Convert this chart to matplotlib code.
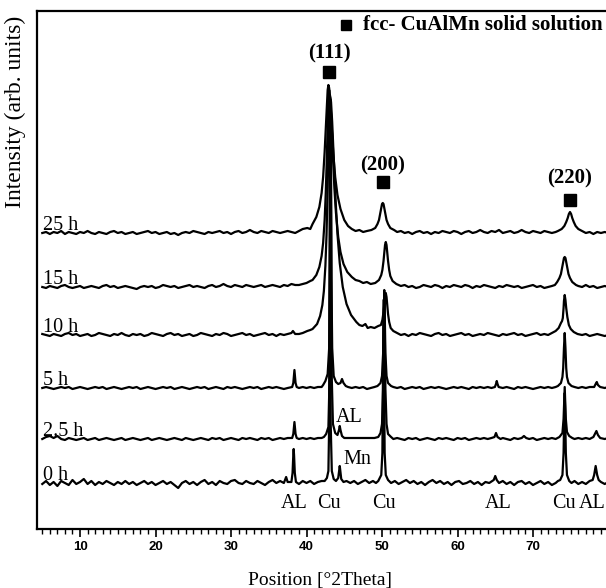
import matplotlib.pyplot as plt

plt.rcParams['font.family'] = ['Liberation Serif', 'DejaVu Serif']

# 2theta (deg) / intensity (arb. units, above each pattern's baseline)
scan_25h = [
    (5.0, 0), (5.5, 1), (6.0, -1), (6.5, 1), (7.0, 0), (7.5, 2), (8.0, -1), (8.5, 1), (9.0, 0), (9.5, -1),
    (10.0, 1), (10.5, 0), (11.0, 2), (11.5, 0), (12.0, -1), (12.5, 1), (13.0, 0), (13.5, -1), (14.0, 1), (14.5, 2),
    (15.0, 0), (15.5, 1), (16.0, -1), (16.5, 0), (17.0, 1), (17.5, -1), (18.0, 0), (18.5, 1), (19.0, 2), (19.5, 0),
    (20.0, 1), (20.5, -1), (21.0, 0), (21.5, 1), (22.0, -1), (22.5, 0), (23.0, -2), (23.5, 0), (24.0, 1), (24.5, 0),
    (25.0, 2), (25.5, 1), (26.0, 0), (26.5, -1), (27.0, 1), (27.5, 0), (28.0, 1), (28.5, 2), (29.0, 0), (29.5, 1),
    (30.0, -1), (30.5, 1), (31.0, 2), (31.5, 0), (32.0, 1), (32.5, 3), (33.0, 1), (33.5, 0), (34.0, 2), (34.5, 1),
    (35.0, 0), (35.5, 2), (36.0, 1), (36.5, 0), (37.0, 1), (37.5, 2), (38.0, 1), (38.5, 0), (39.0, 2), (39.5, 4),
    (40.1, 5), (40.5, 4), (40.8, 9), (41.3, 16), (41.7, 26), (42.0, 40), (42.2, 56), (42.4, 81), (42.55, 105),
    (42.7, 131), (42.8, 143), (42.9, 148), (43.0, 145), (43.15, 131), (43.35, 105), (43.55, 79), (43.8, 56),
    (44.1, 38), (44.5, 24), (45.0, 13), (45.5, 7), (46.0, 4), (46.5, 2), (47.0, 3), (47.5, 1), (48.0, 2),
    (48.6, 3), (49.1, 5), (49.4, 9), (49.6, 13), (49.75, 19), (49.9, 25), (50.0, 29), (50.1, 30), (50.2, 29),
    (50.3, 25), (50.45, 19), (50.6, 13), (50.8, 9), (51.1, 5), (51.6, 3), (52.0, 1), (52.5, 2), (53.0, 0),
    (53.5, 1), (54.0, -1), (54.5, 1), (55.0, 2), (55.5, 0), (56.0, 1), (56.5, -1), (57.0, 1), (57.5, 0), (58.0, 2),
    (58.5, 1), (59.0, 0), (59.5, 2), (60.0, 1), (60.5, -1), (61.0, 1), (61.5, 2), (62.0, 0), (62.5, 1), (63.0, 3),
    (63.5, 1), (64.0, 0), (64.5, 2), (65.0, 1), (65.5, 3), (66.0, 0), (66.5, 1), (67.0, 2), (67.5, 0), (68.0, 1),
    (68.5, 3), (69.0, 1), (69.5, 0), (70.0, 2), (70.5, 1), (71.0, 0), (71.5, 2), (72.0, 1), (72.5, 0), (73.0, 1),
    (73.3, 2), (73.8, 4), (74.15, 7), (74.4, 11), (74.6, 15), (74.75, 19), (74.9, 21), (75.05, 19), (75.2, 15),
    (75.4, 11), (75.65, 7), (76.0, 4), (76.5, 2), (77.0, 0), (77.5, 1), (78.0, -1), (78.5, 1), (79.0, 0),
    (79.5, 1), (80.0, 0),
]

scan_15h = [
    (5.0, 0), (5.5, -1), (6.0, 1), (6.5, 0), (7.0, -1), (7.5, 1), (8.0, 2), (8.5, 0), (9.0, -1), (9.5, 0),
    (10.0, 1), (10.5, -1), (11.0, 0), (11.5, 1), (12.0, 0), (12.5, -1), (13.0, 1), (13.5, 2), (14.0, 0), (14.5, 1),
    (15.0, -1), (15.5, 0), (16.0, 1), (16.5, 0), (17.0, -1), (17.5, -2), (18.0, 0), (18.5, 1), (19.0, 0), (19.5, 1),
    (20.0, -1), (20.5, 0), (21.0, 2), (21.5, 1), (22.0, 0), (22.5, 1), (23.0, -1), (23.5, 0), (24.0, 1), (24.5, 2),
    (25.0, 0), (25.5, 1), (26.0, 0), (26.5, -1), (27.0, 1), (27.5, 2), (28.0, 0), (28.5, 1), (29.0, 3), (29.5, 1),
    (30.0, 0), (30.5, 2), (31.0, 1), (31.5, 0), (32.0, 2), (32.5, 1), (33.0, 0), (33.5, 1), (34.0, 2), (34.5, 0),
    (35.0, 1), (35.5, 2), (36.0, 1), (36.5, 0), (37.0, 2), (37.5, 1), (38.0, 3), (38.5, 2), (39.0, 2), (39.5, 3),
    (40.0, 4), (40.5, 6), (40.8, 7), (41.3, 12), (41.7, 20), (42.0, 31), (42.2, 44), (42.4, 67), (42.55, 94),
    (42.7, 132), (42.8, 162), (42.9, 187), (43.0, 197), (43.15, 188), (43.3, 166), (43.5, 130), (43.7, 98),
    (43.9, 74), (44.2, 50), (44.5, 35), (44.9, 23), (45.4, 15), (46.0, 10), (46.5, 7), (47.0, 6), (47.5, 4),
    (48.0, 5), (48.5, 3), (49.1, 4), (49.6, 7), (49.9, 12), (50.05, 17), (50.2, 26), (50.3, 34), (50.4, 42),
    (50.5, 45), (50.6, 42), (50.7, 34), (50.8, 26), (50.95, 17), (51.1, 11), (51.4, 6), (51.9, 3), (52.5, 1),
    (53.0, 2), (53.5, 0), (54.0, 1), (54.5, -1), (55.0, 0), (55.5, 2), (56.0, 1), (56.5, 0), (57.0, 2), (57.5, 1),
    (58.0, -1), (58.5, 1), (59.0, 0), (59.5, 2), (60.0, 1), (60.5, 0), (61.0, 2), (61.5, 1), (62.0, -1), (62.5, 1),
    (63.0, 0), (63.5, 2), (64.0, 1), (64.5, 0), (65.0, -1), (65.5, 1), (66.0, 0), (66.5, 2), (67.0, 1), (67.5, 0),
    (68.0, 1), (68.5, -1), (69.0, 0), (69.5, 1), (70.0, 2), (70.5, 0), (71.0, 1), (71.5, -1), (72.0, 0), (72.5, 1),
    (72.9, 2), (73.2, 5), (73.5, 9), (73.7, 13), (73.85, 19), (74.0, 25), (74.1, 29), (74.2, 30), (74.3, 29),
    (74.4, 25), (74.55, 19), (74.7, 13), (74.9, 9), (75.2, 5), (75.7, 2), (76.0, 1), (76.5, 0), (77.0, 2),
    (77.5, 0), (78.0, 1), (78.5, -1), (79.0, 0), (79.5, 1), (80.0, 0),
]

scan_10h = [
    (5.0, 1), (5.5, 0), (6.0, -1), (6.5, 1), (7.0, 0), (7.5, -1), (8.0, 1), (8.5, 2), (9.0, 0), (9.5, 1),
    (10.0, -1), (10.5, 0), (11.0, 1), (11.5, -1), (12.0, 0), (12.5, 2), (13.0, 1), (13.5, 0), (14.0, -1), (14.5, 1),
    (15.0, 0), (15.5, 2), (16.0, 0), (16.5, -1), (17.0, 1), (17.5, 0), (18.0, 1), (18.5, -1), (19.0, 0), (19.5, 2),
    (20.0, 1), (20.5, 0), (21.0, -1), (21.5, 1), (22.0, 2), (22.5, 0), (23.0, 1), (23.5, -1), (24.0, 0), (24.5, 1),
    (25.0, -1), (25.5, 0), (26.0, 2), (26.5, 1), (27.0, 0), (27.5, -1), (28.0, 1), (28.5, 0), (29.0, 2), (29.5, 1),
    (30.0, -1), (30.5, 0), (31.0, 1), (31.5, 2), (32.0, 0), (32.5, 1), (33.0, -1), (33.5, 0), (34.0, 1), (34.5, 2),
    (35.0, 0), (35.5, 1), (36.0, -1), (36.5, 1), (37.0, 0), (37.5, 1), (38.0, 2), (38.2, 4), (38.5, 1), (39.0, 1),
    (39.5, 2), (40.1, 4), (40.5, 5), (40.8, 6), (41.4, 11), (41.8, 19), (42.1, 30), (42.3, 44), (42.5, 69),
    (42.65, 100), (42.8, 148), (42.9, 188), (43.0, 224), (43.1, 240), (43.25, 233), (43.4, 213), (43.6, 178),
    (43.85, 135), (44.1, 101), (44.4, 72), (44.8, 48), (45.3, 31), (45.9, 20), (46.6, 13), (47.0, 10), (47.4, 9),
    (47.8, 11), (48.1, 7), (48.5, 8), (49.0, 7), (49.5, 9), (49.85, 10), (50.05, 15), (50.2, 23), (50.3, 31),
    (50.4, 38), (50.5, 42), (50.6, 38), (50.7, 29), (50.8, 21), (50.95, 13), (51.15, 7), (51.5, 4), (52.0, 2),
    (52.5, 0), (53.0, 1), (53.5, -1), (54.0, 1), (54.5, 0), (55.0, 2), (55.5, 1), (56.0, 0), (56.5, -1), (57.0, 1),
    (57.5, 2), (58.0, 0), (58.5, 1), (59.0, -1), (59.5, 0), (60.0, 1), (60.5, 2), (61.0, 0), (61.5, 1), (62.0, -1),
    (62.5, 0), (63.0, 1), (63.5, 0), (64.0, 2), (64.5, 1), (65.0, 0), (65.5, -1), (66.0, 1), (66.5, 0), (67.0, 1),
    (67.5, 2), (68.0, 0), (68.5, 1), (69.0, -1), (69.5, 0), (70.0, 1), (70.5, 2), (71.0, 0), (71.5, 1), (72.0, 0),
    (72.5, 2), (73.0, 4), (73.4, 7), (73.7, 12), (73.85, 14), (73.95, 17), (74.05, 27), (74.1, 34), (74.2, 40),
    (74.3, 35), (74.4, 27), (74.55, 18), (74.75, 10), (75.0, 6), (75.4, 3), (75.9, 1), (76.5, 0), (77.0, 1),
    (77.5, -1), (78.0, 0), (78.5, 1), (79.0, 0), (79.5, -1), (80.0, 0),
]

scan_5h = [
    (5.0, 0), (5.5, 1), (6.0, 0), (6.5, -1), (7.0, 0), (7.5, 1), (8.0, 0), (8.5, 1), (9.0, -1), (9.5, 0),
    (10.0, 1), (10.5, 0), (11.0, -1), (11.5, 0), (12.0, 1), (12.5, 0), (13.0, 1), (13.5, -1), (14.0, 0), (14.5, 1),
    (15.0, 0), (15.5, -1), (16.0, 0), (16.5, 1), (17.0, 0), (17.5, 1), (18.0, -1), (18.5, 0), (19.0, 1), (19.5, 0),
    (20.0, -1), (20.5, 0), (21.0, 1), (21.5, 0), (22.0, 1), (22.5, -1), (23.0, 0), (23.5, 1), (24.0, 0), (24.5, -1),
    (25.0, 0), (25.5, 1), (26.0, 0), (26.5, 1), (27.0, -1), (27.5, 0), (28.0, 1), (28.5, 0), (29.0, -1), (29.5, 1),
    (30.0, 0), (30.5, 1), (31.0, 0), (31.5, -1), (32.0, 0), (32.5, 1), (33.0, 0), (33.5, 1), (34.0, -1), (34.5, 0),
    (35.0, 1), (35.5, 0), (36.0, 1), (36.5, 0), (37.0, -1), (37.5, 0), (38.1, 1), (38.25, 5), (38.35, 14),
    (38.4, 18), (38.45, 14), (38.55, 5), (38.7, 1), (39.0, 0), (39.5, 1), (40.0, 0), (40.5, 1), (41.0, 0),
    (41.5, 1), (42.0, 1), (42.2, 3), (42.5, 7), (42.8, 14), (43.0, 40), (43.1, 110), (43.15, 200), (43.2, 288),
    (43.25, 200), (43.3, 110), (43.4, 40), (43.6, 12), (43.9, 6), (44.2, 4), (44.5, 5), (44.7, 9), (44.9, 5),
    (45.2, 2), (45.5, 1), (46.0, 0), (46.5, 1), (47.0, 0), (47.5, 1), (48.0, -1), (48.5, 0), (49.0, 1),
    (49.4, 2), (49.8, 5), (50.0, 12), (50.15, 35), (50.25, 80), (50.3, 98), (50.35, 80), (50.45, 35), (50.6, 12),
    (50.8, 5), (51.2, 2), (51.5, 1), (52.0, 0), (52.5, 1), (53.0, -1), (53.5, 0), (54.0, 1), (54.5, 0), (55.0, 1),
    (55.5, -1), (56.0, 0), (56.5, 1), (57.0, 0), (57.5, 1), (58.0, 0), (58.5, -1), (59.0, 0), (59.5, 1), (60.0, 0),
    (60.5, 1), (61.0, 0), (61.5, -1), (62.0, 1), (62.5, 0), (63.0, 1), (63.5, 0), (64.0, 1), (64.5, 0),
    (64.95, 1), (65.1, 4), (65.2, 7), (65.3, 4), (65.45, 1), (66.0, 0), (66.5, 1), (67.0, 0), (67.5, -1),
    (68.0, 1), (68.5, 0), (69.0, 1), (69.5, 0), (70.0, -1), (70.5, 0), (71.0, 1), (71.5, 0), (72.0, 1), (72.5, 0),
    (73.0, 1), (73.3, 2), (73.7, 5), (73.9, 11), (74.0, 20), (74.1, 40), (74.2, 55), (74.3, 40), (74.4, 20),
    (74.5, 11), (74.7, 5), (75.1, 2), (75.5, 1), (76.0, 0), (76.5, 1), (77.0, 0), (77.5, 1), (78.1, 1),
    (78.3, 4), (78.45, 6), (78.6, 3), (78.9, 1), (79.5, 0), (80.0, 1),
]

scan_2_5h = [
    (5.0, 0), (5.5, 2), (6.0, 3), (6.5, 1), (7.0, 3), (7.5, 0), (8.0, -1), (8.5, 1), (9.0, 0), (9.5, -1),
    (10.0, 0), (10.5, 1), (11.0, -1), (11.5, 0), (12.0, 1), (12.5, -1), (13.0, 0), (13.5, 1), (14.0, 0), (14.5, -1),
    (15.0, 0), (15.5, 1), (16.0, -1), (16.5, 0), (17.0, 1), (17.5, 0), (18.0, -1), (18.5, 0), (19.0, 1), (19.5, -1),
    (20.0, 0), (20.5, 1), (21.0, 0), (21.5, -1), (22.0, 0), (22.5, 1), (23.0, 0), (23.5, -1), (24.0, 1), (24.5, 0),
    (25.0, -1), (25.5, 0), (26.0, 1), (26.5, 0), (27.0, -1), (27.5, 1), (28.0, 0), (28.5, 1), (29.0, -1), (29.5, 0),
    (30.0, 1), (30.5, 0), (31.0, -1), (31.5, 1), (32.0, 0), (32.5, 1), (33.0, 0), (33.5, -1), (34.0, 1), (34.5, 0),
    (35.0, 1), (35.5, -1), (36.0, 0), (36.5, 1), (37.0, 0), (37.5, 1), (38.1, 1), (38.25, 5), (38.35, 13),
    (38.4, 17), (38.45, 13), (38.55, 5), (38.7, 1), (39.0, 0), (39.5, 1), (40.0, 0), (40.5, 1), (41.0, 0),
    (41.5, 1), (42.0, 1), (42.3, 2), (42.6, 5), (42.9, 12), (43.05, 60), (43.15, 250), (43.2, 334), (43.25, 250),
    (43.35, 60), (43.5, 15), (43.8, 6), (44.1, 4), (44.3, 9), (44.4, 13), (44.5, 9), (44.7, 3), (45.0, 1),
    (46.0, 1), (47.0, 1), (48.0, 1), (49.0, 1), (49.5, 2), (49.8, 6), (50.0, 15), (50.15, 50), (50.25, 120),
    (50.3, 145), (50.35, 120), (50.45, 50), (50.6, 15), (50.8, 5), (51.2, 2), (51.5, 0), (52.0, 1), (52.5, 0),
    (53.0, -1), (53.5, 1), (54.0, 0), (54.5, 1), (55.0, -1), (55.5, 0), (56.0, 1), (56.5, 0), (57.0, -1), (57.5, 1),
    (58.0, 0), (58.5, 1), (59.0, 0), (59.5, -1), (60.0, 1), (60.5, 0), (61.0, 1), (61.5, -1), (62.0, 0), (62.5, 1),
    (63.0, 0), (63.5, 1), (64.0, 0), (64.5, 1), (64.9, 2), (65.1, 6), (65.3, 2), (65.7, 0), (66.0, 1), (66.5, 0),
    (67.0, -1), (67.5, 1), (68.0, 0), (68.5, 1), (68.8, 3), (69.1, 1), (69.5, 0), (70.0, 1), (70.5, -1), (71.0, 0),
    (71.5, 1), (72.0, 0), (72.5, 1), (73.0, 0), (73.5, 2), (73.9, 6), (74.05, 20), (74.15, 42), (74.2, 52),
    (74.25, 42), (74.35, 20), (74.5, 7), (74.8, 3), (75.2, 1), (75.5, 0), (76.0, 1), (76.5, 0), (77.0, 1),
    (77.5, 0), (78.0, 2), (78.2, 5), (78.4, 8), (78.6, 4), (78.9, 1), (79.5, 0), (80.0, 1),
]

scan_0h = [
    (5.0, -1), (5.5, 2), (6.0, -2), (6.5, 1), (7.0, -3), (7.5, 2), (8.0, 0), (8.5, -2), (9.0, 3), (9.5, -1),
    (10.0, 1), (10.5, 4), (11.0, -1), (11.5, 2), (12.0, -2), (12.5, 1), (13.0, -1), (13.5, 2), (14.0, 0), (14.5, -2),
    (15.0, 1), (15.5, -1), (16.0, 2), (16.5, -1), (17.0, 1), (17.5, -2), (18.0, 0), (18.5, 2), (19.0, -1), (19.5, 1),
    (20.0, -2), (20.5, 0), (21.0, 2), (21.5, -1), (22.0, 1), (22.5, -2), (23.0, -5), (23.5, 0), (24.0, 2), (24.5, -1),
    (25.0, 1), (25.5, -2), (26.0, 1), (26.5, 3), (27.0, -1), (27.5, 1), (28.0, -2), (28.5, 2), (29.0, 0), (29.5, -1),
    (30.0, 2), (30.5, 3), (31.0, 0), (31.5, -1), (32.0, 2), (32.5, 0), (33.0, -1), (33.5, 2), (34.0, 0), (34.5, -2),
    (35.0, 1), (35.5, 3), (36.0, 0), (36.5, 2), (37.0, 0), (37.3, 6), (37.5, 1), (38.0, 1), (38.15, 10),
    (38.25, 28), (38.3, 34), (38.35, 28), (38.45, 10), (38.6, 1), (39.0, -1), (39.5, 2), (40.0, 0), (40.5, 2),
    (41.0, -1), (41.5, 1), (42.0, 2), (42.4, 2), (42.7, 5), (42.9, 12), (43.0, 60), (43.05, 200), (43.1, 373),
    (43.15, 200), (43.2, 60), (43.35, 12), (43.6, 4), (43.9, 2), (44.2, 5), (44.35, 14), (44.4, 17), (44.45, 14),
    (44.6, 4), (44.9, 1), (45.3, 2), (45.8, 0), (46.3, 2), (46.8, -1), (47.3, 1), (47.8, 3), (48.3, 0), (48.8, 2),
    (49.2, 0), (49.5, 2), (49.9, 8), (50.05, 30), (50.15, 130), (50.2, 183), (50.25, 130), (50.35, 30), (50.5, 8),
    (50.8, 3), (51.2, 0), (51.7, 2), (52.2, -1), (52.7, 1), (53.2, 3), (53.7, 0), (54.2, 2), (54.7, -1), (55.2, 1),
    (55.7, -2), (56.2, 1), (56.7, 3), (57.2, 0), (57.7, 2), (58.2, -1), (58.7, 1), (59.2, -2), (59.7, 1), (60.2, 2),
    (60.7, -1), (61.2, 0), (61.7, 2), (62.2, -1), (62.7, 1), (63.2, -2), (63.7, 1), (64.2, 0), (64.6, 2),
    (64.8, 3), (65.0, 7), (65.2, 3), (65.5, 0), (66.0, 2), (66.5, -1), (67.0, 1), (67.5, -2), (68.0, 1), (68.5, 2),
    (69.0, -1), (69.5, 1), (70.0, -2), (70.5, 0), (71.0, 2), (71.5, -1), (72.0, 1), (72.5, -2), (73.0, 0),
    (73.3, 2), (73.6, 3), (73.9, 8), (74.05, 30), (74.15, 75), (74.2, 90), (74.25, 75), (74.35, 30), (74.5, 8),
    (74.8, 2), (75.1, 0), (75.5, 2), (76.0, -1), (76.5, 1), (77.0, -1), (77.5, 2), (77.9, 3), (78.1, 8),
    (78.3, 17), (78.5, 8), (78.7, 3), (79.0, 1), (79.5, -1), (80.0, 1),
]

scans = [scan_25h, scan_15h, scan_10h, scan_5h, scan_2_5h, scan_0h]
times = ['25 h', '15 h', '10 h', '5 h', '2.5 h', '0 h']
offsets = [296, 242, 194, 141, 90, 46]

hkl = ['(111)', '(200)', '(220)']
hkl_pos = [43.0, 50.1, 74.9]

phase = ['AL', 'Cu', 'Cu', 'AL', 'Cu', 'AL']
phase_pos = [38.3, 43.0, 50.2, 65.4, 74.1, 77.9]

fig = plt.figure(figsize=(6.06, 5.88), dpi=100)
ax = fig.add_axes([37 / 606, 59 / 588, 569 / 606, 518 / 588])

for scan, off, lab in zip(scans, offsets, times):
    x = [p[0] for p in scan]
    y = [p[1] + off for p in scan]
    ax.plot(x, y, color='black', lw=1.6, solid_joinstyle='round')
    ax.text(5.1, off + 3, lab, fontsize=14.5, va='baseline', ha='left')

# hkl markers of the fcc phase, above the 25 h pattern
for lab, pos, ym, yt in zip(hkl, hkl_pos, [457, 347, 329], [476, 364, 351]):
    ax.plot(pos, ym, 's', color='black', ms=8)
    ax.text(pos, yt, lab, fontsize=15, fontweight='bold', ha='center', va='center')

ax.plot(45.2, 504, 's', color='black', ms=7)
ax.text(47.5, 504, 'fcc- CuAlMn solid solution', fontsize=15, fontweight='bold', va='center')

for lab, pos in zip(phase, phase_pos):
    ax.text(pos, 26, lab, fontsize=14.5, ha='center', va='center')
ax.text(45.7, 112, 'AL', fontsize=14.5, ha='center', va='center')
ax.text(46.7, 69, 'Mn', fontsize=14.5, ha='center', va='center')

ax.set_xlim(4.3, 79.67)
ax.set_ylim(0, 518)
ax.set_yticks([])
ax.set_xticks(range(10, 80, 10))
ax.set_xticks(range(5, 80), minor=True)
ax.tick_params(axis='x', which='major', direction='out', length=6, width=1.2, labelsize=9.5, pad=3)
ax.tick_params(axis='x', which='minor', direction='out', length=3.5, width=1.0)
for t in ax.get_xticklabels():
    t.set_fontfamily('Liberation Sans')
    t.set_fontweight('bold')
for s in ['left', 'bottom', 'top']:
    ax.spines[s].set_linewidth(1.6)
ax.spines['right'].set_visible(False)

fig.text(320 / 606, 1 - 580 / 588, 'Position [°2Theta]', fontsize=14, ha='center', va='center')
fig.text(15 / 606, 1 - 112 / 588, 'Intensity (arb. units)', fontsize=17, rotation=90,
         ha='center', va='center')

fig.savefig('out.png', dpi=100)
